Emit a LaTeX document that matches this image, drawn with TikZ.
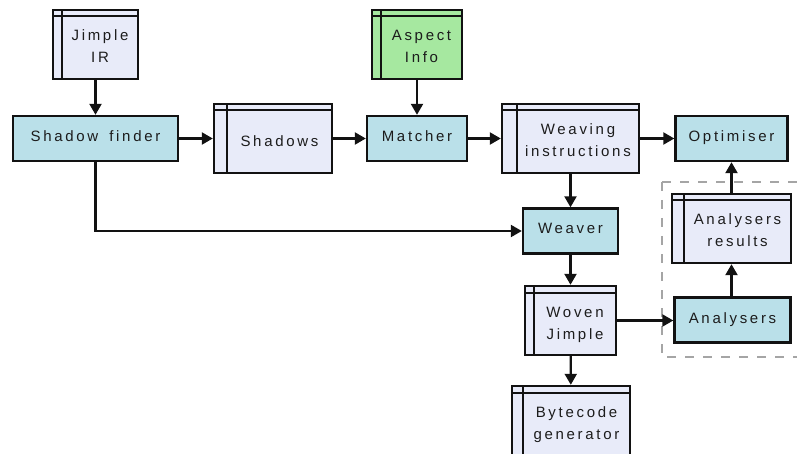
\documentclass[tikz,border=0pt]{standalone}
\usepackage{fontspec}
\setmainfont{Liberation Sans}[LetterSpace=18, WordSpace=1.6]
\usetikzlibrary{arrows.meta}

\definecolor{procfill}{RGB}{186,224,233}
\definecolor{storefill}{RGB}{232,235,249}
\definecolor{aspectfill}{RGB}{166,232,160}
\definecolor{inkc}{RGB}{18,18,18}
\definecolor{textc}{RGB}{28,28,28}
\definecolor{groupc}{RGB}{165,165,165}

\tikzset{
  box/.style={draw=inkc, line width=2.4pt, text=textc, align=center, inner sep=0pt,
    font=\fontsize{15}{22}\selectfont},
  proc/.style={box, fill=procfill, minimum height=45, text height=11pt, text depth=5pt},
  store/.style={box, fill=storefill, minimum height=69,
    path picture={
      \draw[line width=2pt, draw=inkc]
        ([xshift=#1]path picture bounding box.north west) --
        ([xshift=#1]path picture bounding box.south west);
      \draw[line width=2pt, draw=inkc]
        ([yshift=-6.5pt]path picture bounding box.north west) --
        ([yshift=-6.5pt]path picture bounding box.north east);
    }},
  store/.default=9pt,
  % two-line text of a store box, centred in the area right of the strip and below the band
  storetext/.style={text=textc, align=center, inner sep=0pt,
    font=\fontsize{15}{22}\selectfont, text height=33pt, text depth=0pt,
    xshift=#1/2, yshift=-2pt},
  storetext/.default=9pt,
  arr/.style={draw=inkc, line width=2.2pt, -{Triangle[length=11pt,width=12pt]}},
  group/.style={draw=groupc, line width=2pt, dash pattern=on 9pt off 9pt},
}

\begin{document}
\begin{tikzpicture}[x=1pt, y=-1pt]
\useasboundingbox (0,0) rectangle (797,454);

% analysis group
\draw[group] (662,182) -- (808,182) (662,182) -- (662,357) -- (808,357);

% inputs
\node[store, minimum width=85] (jir) at (95.5,44.5) {};
\node[storetext] (jirt) at (jir) {Jimple\\IR};
\node[store, fill=aspectfill, minimum width=90] (asp) at (417,44.5) {};
\node[storetext] (aspt) at (asp) {Aspect\\Info};

% main row
\node[proc, minimum width=165] (sf) at (95.5,138.5) {Shadow finder};
\node[store=13pt, minimum width=118] (sh) at (273,138.5) {};
\node[storetext=13pt, text height=11pt, text depth=5pt, yshift=-3pt] (sht) at (sh) {Shadows};
\node[proc, minimum width=100] (mt) at (417,138.5) {Matcher};
\node[store=15pt, minimum width=137] (wi) at (570.5,138.5) {};
\node[storetext=15pt] (wit) at (wi) {Weaving\\instructions};
\node[proc, minimum width=112] (op) at (731.5,138.5) {Optimiser};

% weaving column
\node[proc, minimum width=95] (wv) at (570.5,231) {Weaver};
\node[store, minimum width=91] (wj) at (570.5,320.5) {};
\node[storetext] (wjt) at (wj) {Woven\\Jimple};
\node[store=11pt, minimum width=118] (bc) at (571,420.5) {};
\node[storetext=11pt] (bct) at (bc) {Bytecode\\generator};

% analysis
\node[proc, minimum width=116] (an) at (732.5,320) {Analysers};
\node[store=12pt, minimum width=119] (ar) at (731.5,228.5) {};
\node[storetext=12pt] (art) at (ar) {Analysers\\results};

% connectors
\draw[arr] (jir) -- (sf);
\draw[arr] (asp) -- (mt);
\draw[arr] (sf) -- (sh);
\draw[arr] (sh) -- (mt);
\draw[arr] (mt) -- (wi);
\draw[arr] (wi) -- (op);
\draw[arr] (wi) -- (wv);
\draw[arr] (sf.south) |- (wv.west);
\draw[arr] (wv) -- (wj);
\draw[arr] (wj) -- (bc);
\draw[arr] (wj.east) -- (wj.east -| an.west);
\draw[arr] (an.north -| ar.south) -- (ar.south);
\draw[arr] (ar.north) -- (ar.north |- op.south);
\end{tikzpicture}
\end{document}
